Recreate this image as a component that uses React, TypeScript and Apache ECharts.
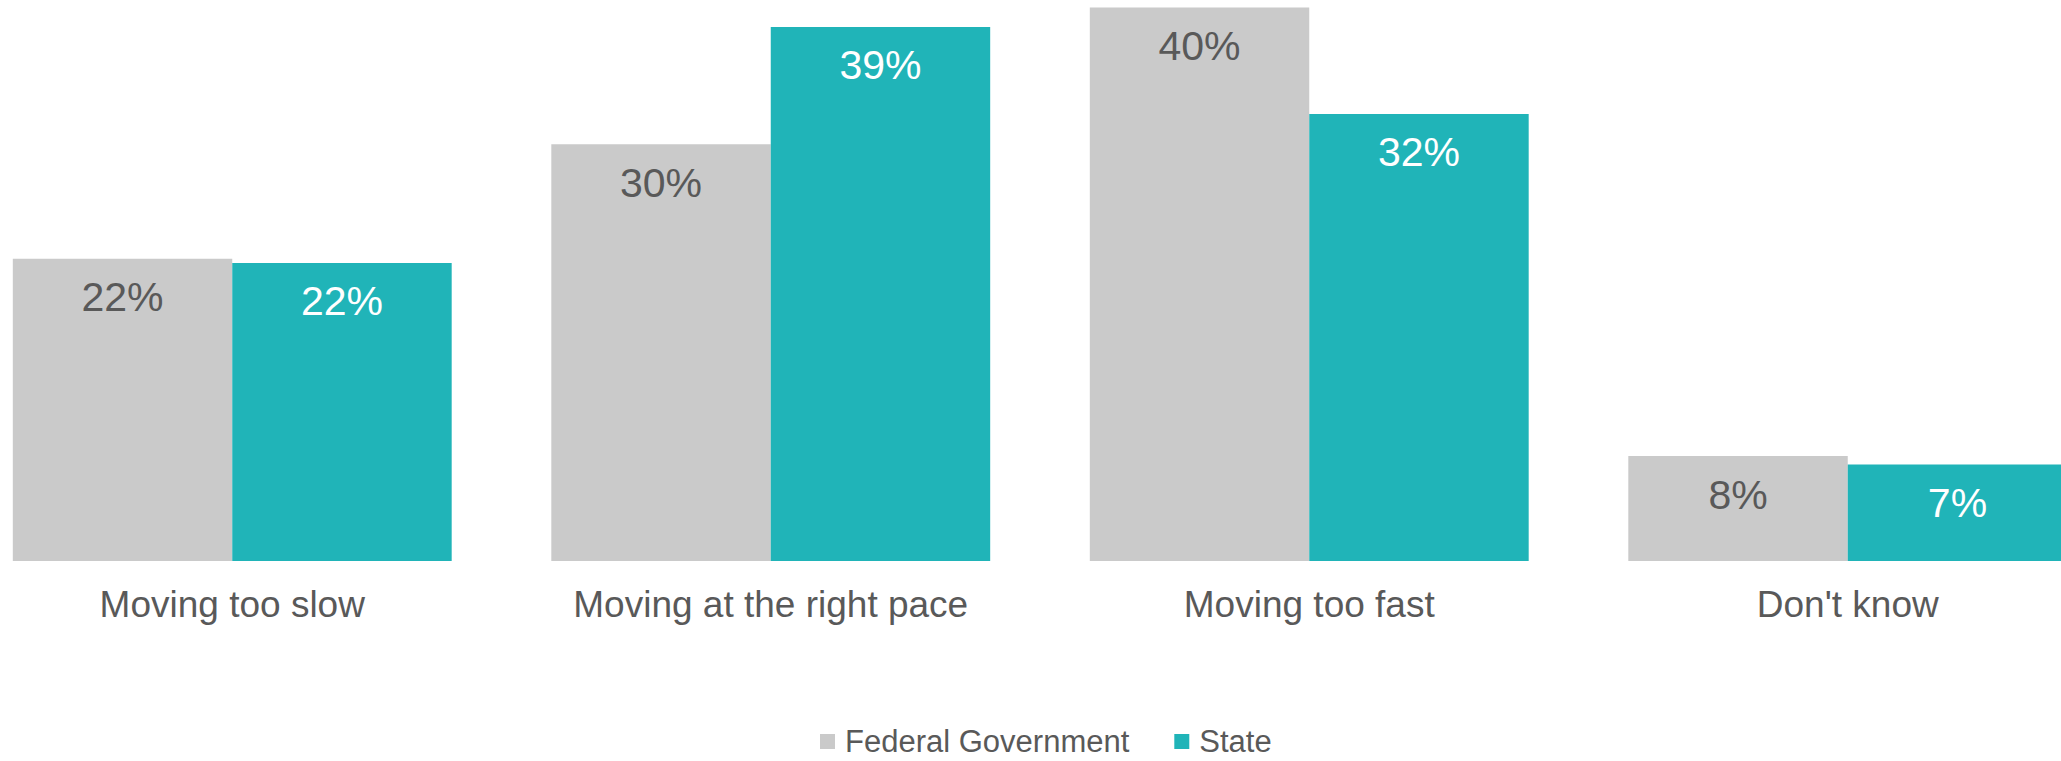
import React, { useEffect, useRef } from "react";
import * as echarts from "echarts";

const categories = ["Moving too slow", "Moving at the right pace", "Moving too fast", "Don't know"];
const federalValues = [21.9, 30.2, 40.1, 7.6];
const stateValues = [21.6, 38.7, 32.4, 7.0];
const seriesNames = ["Federal Government", "State"];

const FONT = "'Liberation Sans', Arial, sans-serif";
const GRAY = "#CACACA";
const TEAL = "#20B4B8";
const TEXT = "#595959";

export default function App() {
  const ref = useRef<HTMLDivElement>(null);
  useEffect(() => {
    if (!ref.current) return;
    const chart = echarts.init(ref.current, undefined, { renderer: "svg" });
    const label = (color: string) => ({
      show: true,
      position: "insideTop",
      distance: 18,
      color,
      fontSize: 41,
      lineHeight: 41,
      fontFamily: FONT,
      formatter: (p: any) => Math.round(p.value) + "%",
    });
    chart.setOption({
      animation: false,
      textStyle: { fontFamily: FONT },
      grid: { left: 0, right: 0, top: 5.2, bottom: 200, containLabel: false },
      legend: {
        data: seriesNames,
        icon: "rect",
        itemWidth: 15,
        itemHeight: 15,
        itemGap: 45,
        left: 857,
        top: 736,
        padding: 0,
        textStyle: { fontSize: 31, color: TEXT, fontFamily: FONT, lineHeight: 26, padding: [0, 0, 0, 5] },
      },
      xAxis: {
        type: "category",
        data: categories,
        axisLine: { show: false },
        axisTick: { show: false },
        axisLabel: { interval: 0, fontSize: 37, color: TEXT, fontFamily: FONT, margin: 21, lineHeight: 44 },
      },
      yAxis: { type: "value", min: 0, max: 41, show: false, splitLine: { show: false } },
      series: [
        {
          name: seriesNames[0],
          type: "bar",
          data: federalValues,
          barGap: "0%",
          barCategoryGap: "18.5%",
          itemStyle: { color: GRAY },
          label: label(TEXT),
        },
        {
          name: seriesNames[1],
          type: "bar",
          data: stateValues,
          barGap: "0%",
          barCategoryGap: "18.5%",
          itemStyle: { color: TEAL },
          label: label("#FFFFFF"),
        },
      ],
    });
    return () => chart.dispose();
  }, []);
  return (
    <div style={{ position: "fixed", left: 0, top: 0, width: 2061, height: 761, overflow: "hidden", background: "#fff" }}>
      <div ref={ref} style={{ position: "absolute", left: -37, top: -10, width: 2154, height: 771 }} />
    </div>
  );
}
